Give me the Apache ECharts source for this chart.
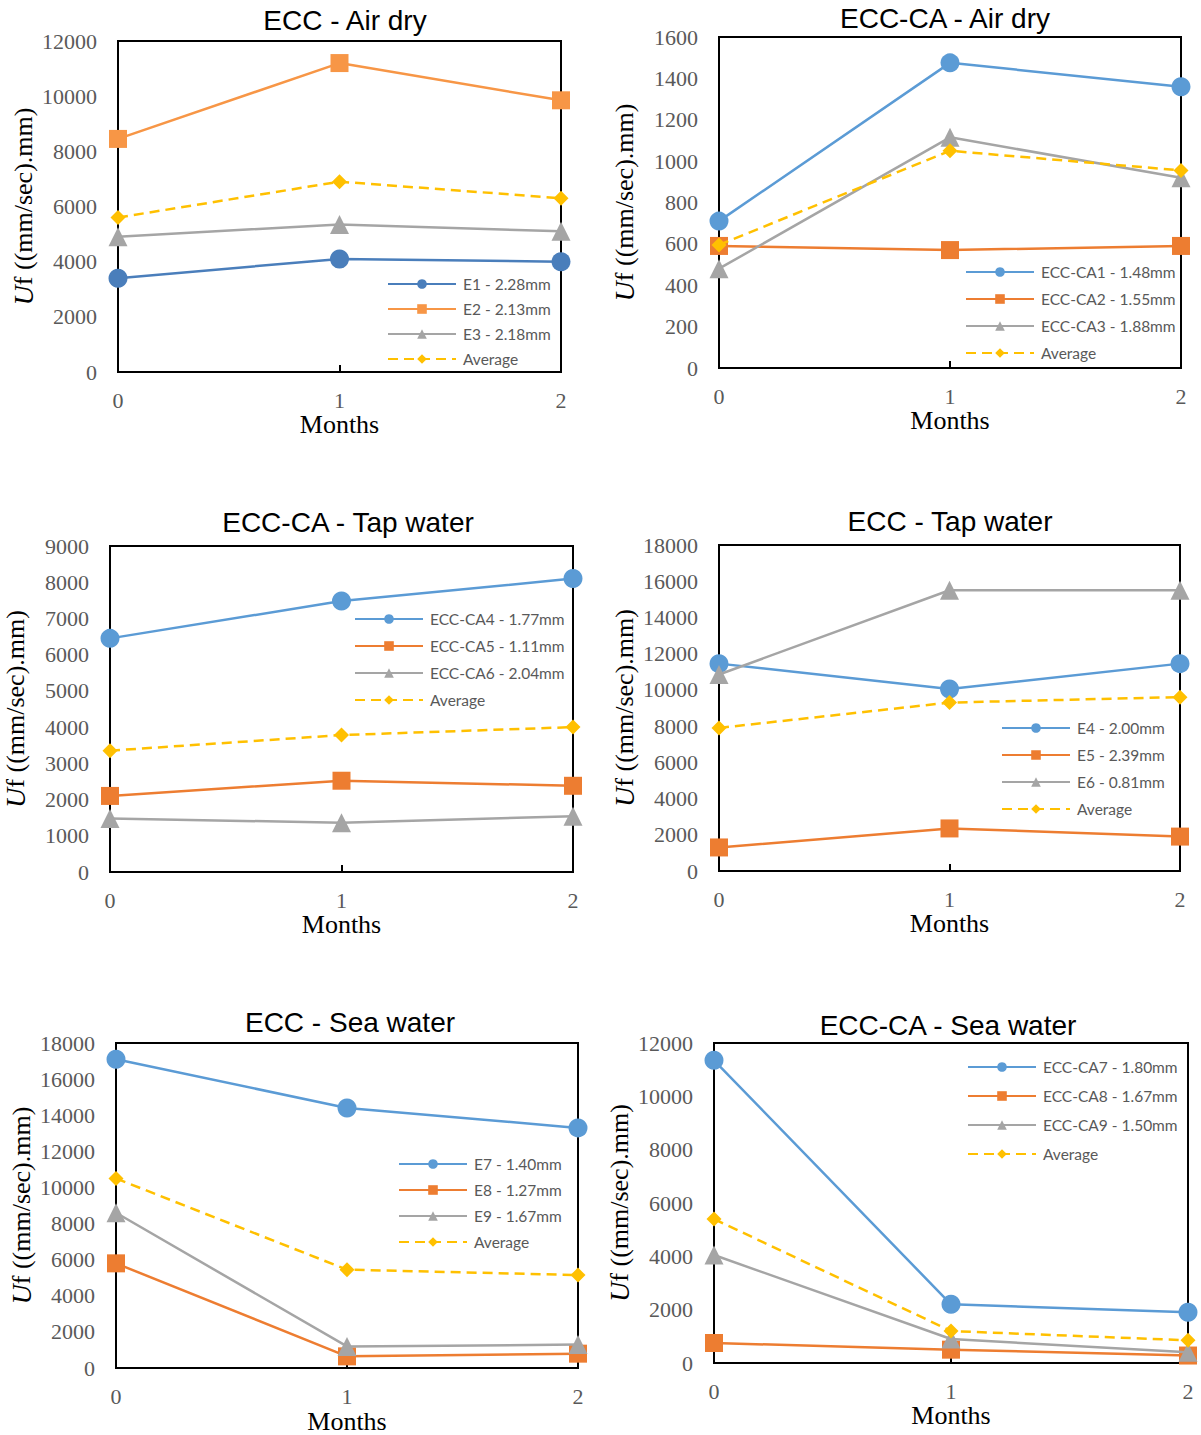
<!DOCTYPE html>
<html>
<head>
<meta charset="utf-8">
<script src="https://cdn.jsdelivr.net/npm/echarts@6/dist/echarts.min.js"></script>
<style>
html,body{margin:0;padding:0;background:#fff;}
#c{width:1201px;height:1435px;}
</style>
</head>
<body>
<div id="c"></div>
<script>
// ---- data ----
const months = ['0', '1', '2'];

// ECC - Air dry
const airEccNames = ['E1 - 2.28mm', 'E2 - 2.13mm', 'E3 - 2.18mm', 'Average'];
const e1 = [3400, 4100, 4000];
const e2 = [8450, 11200, 9850];
const e3 = [4900, 5350, 5100];
const avgAirEcc = [5600, 6900, 6300];

// ECC-CA - Air dry
const airCaNames = ['ECC-CA1 - 1.48mm', 'ECC-CA2 - 1.55mm', 'ECC-CA3 - 1.88mm', 'Average'];
const ca1 = [710, 1475, 1360];
const ca2 = [590, 570, 590];
const ca3 = [480, 1115, 920];
const avgAirCa = [595, 1050, 955];

// ECC-CA - Tap water
const tapCaNames = ['ECC-CA4 - 1.77mm', 'ECC-CA5 - 1.11mm', 'ECC-CA6 - 2.04mm', 'Average'];
const ca4 = [6450, 7480, 8100];
const ca5 = [2100, 2520, 2380];
const ca6 = [1480, 1360, 1540];
const avgTapCa = [3350, 3780, 4000];

// ECC - Tap water
const tapEccNames = ['E4 - 2.00mm', 'E5 - 2.39mm', 'E6 - 0.81mm', 'Average'];
const e4 = [11450, 10050, 11450];
const e5 = [1300, 2350, 1900];
const e6 = [10850, 15500, 15500];
const avgTapEcc = [7900, 9300, 9600];

// ECC - Sea water
const seaEccNames = ['E7 - 1.40mm', 'E8 - 1.27mm', 'E9 - 1.67mm', 'Average'];
const e7 = [17100, 14400, 13300];
const e8 = [5800, 650, 800];
const e9 = [8600, 1200, 1300];
const avgSeaEcc = [10500, 5450, 5150];

// ECC-CA - Sea water
const seaCaNames = ['ECC-CA7 - 1.80mm', 'ECC-CA8 - 1.67mm', 'ECC-CA9 - 1.50mm', 'Average'];
const ca7 = [11350, 2200, 1900];
const ca8 = [750, 500, 280];
const ca9 = [4050, 900, 400];
const avgSeaCa = [5400, 1200, 850];

const titles = ['ECC - Air dry', 'ECC-CA - Air dry', 'ECC-CA - Tap water', 'ECC - Tap water', 'ECC - Sea water', 'ECC-CA - Sea water'];
const yMax = [12000, 1600, 9000, 18000, 18000, 12000];
const yStep = [2000, 200, 1000, 2000, 2000, 2000];

// ---- layout / style ----
const panels = [
  {names: airEccNames, data: [e1, e2, e3, avgAirEcc], colors: ['#4A7EBB', '#F79646', '#A5A5A5', '#FFC000'],
   grid: {left: 118, top: 41, width: 443, height: 331}, title: [345, 20],
   legend: {left: 387, top: 275, gap: 9}},
  {names: airCaNames, data: [ca1, ca2, ca3, avgAirCa], colors: ['#5B9BD5', '#ED7D31', '#A5A5A5', '#FFC000'],
   grid: {left: 719, top: 37, width: 462, height: 331}, title: [945, 18],
   legend: {left: 965, top: 263, gap: 11}},
  {names: tapCaNames, data: [ca4, ca5, ca6, avgTapCa], colors: ['#5B9BD5', '#ED7D31', '#A5A5A5', '#FFC000'],
   grid: {left: 110, top: 546, width: 463, height: 326}, title: [348, 522],
   legend: {left: 354, top: 610, gap: 11}},
  {names: tapEccNames, data: [e4, e5, e6, avgTapEcc], colors: ['#5B9BD5', '#ED7D31', '#A5A5A5', '#FFC000'],
   grid: {left: 719, top: 545, width: 461, height: 326}, title: [950, 521],
   legend: {left: 1001, top: 719, gap: 11}},
  {names: seaEccNames, data: [e7, e8, e9, avgSeaEcc], colors: ['#5B9BD5', '#ED7D31', '#A5A5A5', '#FFC000'],
   grid: {left: 116, top: 1043, width: 462, height: 326}, title: [350, 1022],
   legend: {left: 398, top: 1155, gap: 10}},
  {names: seaCaNames, data: [ca7, ca8, ca9, avgSeaCa], colors: ['#5B9BD5', '#ED7D31', '#A5A5A5', '#FFC000'],
   grid: {left: 714, top: 1043, width: 474, height: 320}, title: [948, 1025],
   legend: {left: 967, top: 1058, gap: 13}}
];

const symbols = ['circle', 'rect', 'triangle', 'diamond'];
const symbolSizes = [19, 18, 19, 15];

const option = {
  animation: false,
  backgroundColor: '#fff',
  grid: [], xAxis: [], yAxis: [], legend: [], series: [], graphic: []
};

panels.forEach((p, i) => {
  option.grid.push(Object.assign({show: true, borderColor: '#000', borderWidth: 2, containLabel: false}, p.grid));
  option.xAxis.push({
    type: 'category', gridIndex: i, data: months, boundaryGap: false,
    name: 'Months', nameLocation: 'middle', nameGap: 39,
    nameTextStyle: {fontFamily: 'Liberation Serif', fontSize: 26, color: '#000'},
    axisLine: {lineStyle: {color: '#000', width: 2}},
    axisTick: {show: true, inside: true, length: 7, lineStyle: {color: '#000', width: 2}},
    axisLabel: {fontFamily: 'Liberation Serif', fontSize: 22, color: '#595959', margin: 17},
    splitLine: {show: false}
  });
  option.yAxis.push({
    type: 'value', gridIndex: i, min: 0, max: yMax[i], interval: yStep[i],
    name: '{u|U}f ((mm/sec).mm)', nameLocation: 'middle', nameGap: 81,
    nameTextStyle: {fontFamily: 'Liberation Serif', fontSize: 26, color: '#000',
      rich: {u: {fontFamily: 'Liberation Serif', fontSize: 28, fontStyle: 'italic', color: '#000'}}},
    axisLine: {show: true, lineStyle: {color: '#000', width: 2}},
    axisTick: {show: false},
    axisLabel: {fontFamily: 'Liberation Serif', fontSize: 22, color: '#595959', margin: 21,
      formatter: v => String(v)},
    splitLine: {show: false}
  });
  option.legend.push({
    orient: 'vertical', left: p.legend.left, top: p.legend.top + 1, padding: 0,
    itemWidth: 68, itemHeight: 12, itemGap: p.legend.gap,
    data: p.names, selectedMode: false,
    textStyle: {fontFamily: 'Lato', fontSize: 15.5, color: '#595959', lineHeight: 16, padding: [0, 0, 0, 2]}
  });
  p.data.forEach((vals, k) => {
    option.series.push({
      type: 'line', name: p.names[k], xAxisIndex: i, yAxisIndex: i,
      data: vals, symbol: symbols[k], symbolSize: symbolSizes[k], clip: false,
      color: p.colors[k],
      itemStyle: {color: p.colors[k]},
      lineStyle: {color: p.colors[k], width: 2.5, type: k === 3 ? [10, 6] : 'solid'},
      z: 2 + k
    });
  });
  option.graphic.push({
    type: 'text', x: p.title[0], y: p.title[1],
    style: {text: titles[i], font: '28px "Liberation Sans"', fill: '#000',
      align: 'center', verticalAlign: 'middle', textAlign: 'center', textVerticalAlign: 'middle'}
  });
});

const chart = echarts.init(document.getElementById('c'), null, {renderer: 'svg'});
chart.setOption(option);
</script>
</body>
</html>
